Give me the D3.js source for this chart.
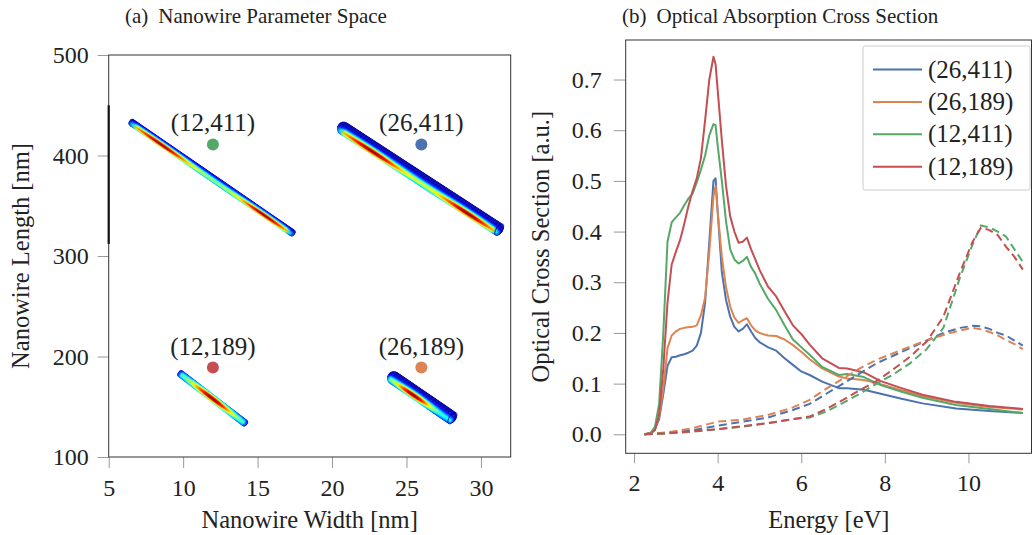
<!DOCTYPE html>
<html><head><meta charset="utf-8">
<script src="https://cdn.jsdelivr.net/npm/d3@7"></script>
<style>
body{margin:0;background:#fff;}
svg{display:block;font-family:"Liberation Serif","Times New Roman",serif;}
</style></head><body>
<svg id="chart" width="1032" height="535"></svg>
<script>
// ---------------- DATA ----------------
const seriesNames  = ["(26,411)", "(26,189)", "(12,411)", "(12,189)"];
const seriesColors = ["#4c72b0", "#dd8452", "#55a868", "#c44e52"];
const pointWidth   = [26, 26, 12, 12];
const pointLength  = [411, 189, 411, 189];

// nanowire picture end points (width nm, length nm)
const wireStart = [[20.4, 430.5], [23.77, 182.4], [6.38, 434.5], [9.67, 184.7]];
const wireEnd   = [[31.45, 324.0], [28.3, 136.5], [17.5, 321.3], [14.3, 132.1]];

const xTicksLeft  = [5, 10, 15, 20, 25, 30];
const yTicksLeft  = [100, 200, 300, 400, 500];
const xTicksRight = [2, 4, 6, 8, 10];
const yTicksRight = [0, 0.1, 0.2, 0.3, 0.4, 0.5, 0.6, 0.7];

const energySolid = [2.25,2.4,2.5,2.6,2.7,2.8,2.9,3.0,3.1,3.2,3.3,3.4,3.5,3.6,3.7,3.8,3.9,3.95,4.0,4.1,4.2,4.3,4.4,4.5,4.6,4.7,4.8,4.9,5.0,5.2,5.4,5.6,5.8,6.0,6.2,6.5,6.9,7.1,7.5,7.9,8.4,8.9,9.7,10.5,11.3];
const solid26_411 = [0,0.002,0.01,0.03,0.08,0.135,0.152,0.153,0.156,0.158,0.161,0.165,0.175,0.2,0.26,0.38,0.5,0.505,0.44,0.32,0.265,0.232,0.212,0.203,0.208,0.217,0.203,0.19,0.182,0.172,0.165,0.15,0.137,0.124,0.117,0.104,0.091,0.091,0.088,0.08,0.07,0.061,0.051,0.046,0.042];
const solid26_189 = [0,0.002,0.01,0.035,0.09,0.17,0.195,0.203,0.208,0.21,0.211,0.212,0.215,0.235,0.27,0.36,0.47,0.49,0.44,0.35,0.29,0.252,0.23,0.22,0.225,0.229,0.215,0.205,0.2,0.195,0.194,0.187,0.176,0.163,0.148,0.13,0.114,0.11,0.107,0.099,0.087,0.075,0.062,0.054,0.049];
const solid12_411 = [0,0.003,0.015,0.06,0.2,0.38,0.418,0.428,0.437,0.452,0.465,0.475,0.497,0.522,0.55,0.59,0.612,0.61,0.57,0.5,0.42,0.365,0.345,0.337,0.342,0.35,0.33,0.317,0.298,0.268,0.245,0.215,0.187,0.172,0.157,0.133,0.117,0.119,0.113,0.097,0.084,0.072,0.058,0.05,0.042];
const solid12_189 = [0,0.002,0.008,0.04,0.13,0.26,0.335,0.36,0.383,0.415,0.45,0.48,0.505,0.545,0.62,0.7,0.745,0.73,0.68,0.58,0.49,0.43,0.4,0.378,0.38,0.388,0.365,0.345,0.325,0.292,0.272,0.243,0.215,0.198,0.177,0.15,0.131,0.13,0.122,0.105,0.091,0.078,0.064,0.056,0.05];

const energyDashed = [2.25,2.8,3.4,4.0,4.6,5.2,5.8,6.2,6.6,7.0,7.4,7.8,8.2,8.6,9.0,9.4,9.8,10.1,10.3,10.5,10.7,10.9,11.1,11.3];
const dashed26_411 = [0,0.003,0.008,0.017,0.025,0.033,0.048,0.06,0.08,0.1,0.12,0.14,0.155,0.17,0.185,0.2,0.21,0.214,0.213,0.208,0.2,0.195,0.185,0.175];
const dashed26_189 = [0,0.004,0.012,0.025,0.029,0.038,0.053,0.068,0.09,0.11,0.13,0.147,0.16,0.173,0.185,0.196,0.205,0.21,0.207,0.202,0.195,0.186,0.178,0.168];
const dashed12_411 = [0,0.002,0.005,0.01,0.015,0.022,0.03,0.033,0.045,0.062,0.08,0.1,0.118,0.14,0.168,0.21,0.31,0.375,0.412,0.408,0.4,0.39,0.365,0.34];
const dashed12_189 = [0,0.002,0.006,0.01,0.016,0.022,0.03,0.035,0.05,0.068,0.087,0.105,0.128,0.153,0.183,0.232,0.32,0.38,0.408,0.403,0.393,0.37,0.35,0.325];

const solidSeries  = [solid26_411, solid26_189, solid12_411, solid12_189];
const dashedSeries = [dashed26_411, dashed26_189, dashed12_411, dashed12_189];

// ---------------- LAYOUT ----------------
const svg = d3.select("#chart");
const textColor = "#222";
const tickColor = "#999";
const FS = 24;

const xL = d3.scaleLinear().domain([5, 32]).range([108.7, 510.7]);
const yL = d3.scaleLinear().domain([100, 500]).range([457, 55]);
const xR = d3.scaleLinear().domain([1.8, 11.52]).range([625.7, 1032]);
const yR = d3.scaleLinear().domain([-0.0375, 0.778]).range([453.3, 40]);

function styleAxis(g) {
  g.select(".domain").remove();
  g.selectAll(".tick line").attr("stroke", tickColor).attr("stroke-width", 1);
  g.selectAll(".tick text").attr("fill", textColor).style("font-size", FS + "px")
    .style("font-family", '"Liberation Serif", serif');
}

// ---------- Left panel ----------
const left = svg.append("g");
left.append("g").attr("transform", `translate(0,${yL(100)})`)
  .call(d3.axisBottom(xL).tickValues(xTicksLeft).tickSize(11).tickPadding(11).tickSizeOuter(0))
  .call(styleAxis);
left.append("g").attr("transform", `translate(${xL(5)},0)`)
  .call(d3.axisLeft(yL).tickValues(yTicksLeft).tickSize(11).tickPadding(9).tickSizeOuter(0))
  .call(styleAxis);
left.append("rect")
  .attr("x", xL(5)).attr("y", yL(500))
  .attr("width", xL(32) - xL(5)).attr("height", yL(100) - yL(500))
  .attr("fill", "none").attr("stroke", "#333").attr("stroke-width", 1);
// dark image border fragment
left.append("line").attr("x1", xL(5)).attr("x2", xL(5)).attr("y1", yL(450)).attr("y2", yL(312))
  .attr("stroke", "#111").attr("stroke-width", 2.2);

// jet colormap
function jet(t) {
  t = Math.max(0, Math.min(1, t));
  const c = v => Math.round(255 * Math.max(0, Math.min(1, v)));
  return `rgb(${c(1.5 - Math.abs(4 * t - 3))},${c(1.5 - Math.abs(4 * t - 2))},${c(1.5 - Math.abs(4 * t - 1))})`;
}
const wireStyle = [
  {w: 14, vc: 0.76, sv: 0.26, peaks: [[0.22, 0.16], [0.8, 0.15]], floor: 0.55, cap: true},
  {w: 14, vc: 0.72, sv: 0.26, peaks: [[0.4, 0.26]], floor: 0.35, cap: true},
  {w: 8, vc: 0.68, sv: 0.36, peaks: [[0.2, 0.16], [0.82, 0.14]], floor: 0.5, cap: false},
  {w: 8, vc: 0.55, sv: 0.45, peaks: [[0.5, 0.3]], floor: 0.35, cap: false}
];
const defs = svg.append("defs");
wireStart.forEach((s, i) => {
  const st = wireStyle[i];
  const x1 = xL(s[0]), y1 = yL(s[1]), x2 = xL(wireEnd[i][0]), y2 = yL(wireEnd[i][1]);
  const L = Math.hypot(x2 - x1, y2 - y1);
  const ang = Math.atan2(y2 - y1, x2 - x1) * 180 / Math.PI;
  const w = st.w;
  const val = (u, v) => {
    let pk = 0;
    st.peaks.forEach(p => { pk = Math.max(pk, Math.exp(-Math.pow((u - p[0]) / p[1], 2))); });
    let A = st.floor + (1 - st.floor) * pk;
    const endF = Math.min(1, u / 0.05, (1 - u) / 0.05);
    A *= Math.max(0, endF);
    return 0.04 + 0.96 * Math.exp(-Math.pow((v - st.vc) / st.sv, 2)) * A;
  };
  defs.append("clipPath").attr("id", "wclip" + i)
    .append("rect").attr("x", 0).attr("y", -w / 2).attr("width", L).attr("height", w).attr("rx", w / 2);
  const g = left.append("g").attr("transform", `translate(${x1},${y1}) rotate(${ang})`);
  const inner = g.append("g").attr("clip-path", `url(#wclip${i})`);
  const nV = Math.round(w * 1.5);
  const h = w / nV;
  for (let j = 0; j < nV; j++) {
    const v = (j + 0.5) / nV;
    const gid = `wg${i}_${j}`;
    const grad = defs.append("linearGradient").attr("id", gid);
    for (let k = 0; k <= 40; k++) {
      const u = k / 40;
      grad.append("stop").attr("offset", u).attr("stop-color", jet(val(u, v)));
    }
    inner.append("rect").attr("x", 0).attr("y", -w / 2 + j * h).attr("width", L).attr("height", h + 0.4)
      .attr("fill", `url(#${gid})`);
  }
  if (st.cap) {
    g.append("ellipse").attr("cx", L - w * 0.28).attr("cy", 0).attr("rx", w * 0.22).attr("ry", w / 2 - 0.3)
      .attr("fill", "none").attr("stroke", "#0000a0").attr("stroke-width", 0.8);
  }
});

// points & labels
seriesNames.forEach((n, i) => {
  left.append("circle").attr("cx", xL(pointWidth[i])).attr("cy", yL(pointLength[i])).attr("r", 6)
    .attr("fill", seriesColors[i]);
  left.append("text").attr("x", xL(pointWidth[i])).attr("y", yL(pointLength[i]) - 13)
    .attr("text-anchor", "middle").attr("fill", textColor).style("font-size", "25px").text(n);
});

// labels
left.append("text").attr("x", (xL(5) + xL(32)) / 2).attr("y", 528).attr("text-anchor", "middle")
  .attr("fill", textColor).style("font-size", "24.5px").text("Nanowire Width [nm]");
left.append("text").attr("transform", `translate(29,${(yL(100) + yL(500)) / 2}) rotate(-90)`)
  .attr("text-anchor", "middle").attr("fill", textColor).style("font-size", "24.5px").text("Nanowire Length [nm]");
const tA = left.append("text").attr("x", 125).attr("y", 23).attr("fill", textColor).style("font-size", "21px");
tA.append("tspan").text("(a)");
tA.append("tspan").attr("dx", 10).text("Nanowire Parameter Space");

// ---------- Right panel ----------
const right = svg.append("g");
right.append("g").attr("transform", `translate(0,${yR.range()[0]})`)
  .call(d3.axisBottom(xR).tickValues(xTicksRight).tickSize(10).tickPadding(11).tickSizeOuter(0))
  .call(styleAxis);
right.append("g").attr("transform", `translate(${xR.range()[0]},0)`)
  .call(d3.axisLeft(yR).tickValues(yTicksRight).tickFormat(d3.format(".1f")).tickSize(12).tickPadding(12).tickSizeOuter(0))
  .call(styleAxis);
right.append("rect")
  .attr("x", xR.range()[0]).attr("y", yR.range()[1])
  .attr("width", xR.range()[1] - xR.range()[0] - 0.5).attr("height", yR.range()[0] - yR.range()[1])
  .attr("fill", "none").attr("stroke", "#333").attr("stroke-width", 1);

const line = d3.line().x(d => xR(d[0])).y(d => yR(d[1]));
solidSeries.forEach((s, i) => {
  right.append("path").datum(energySolid.map((e, k) => [e, s[k]]))
    .attr("d", line).attr("fill", "none").attr("stroke", seriesColors[i])
    .attr("stroke-width", 2).attr("stroke-linejoin", "round");
});
dashedSeries.forEach((s, i) => {
  right.append("path").datum(energyDashed.map((e, k) => [e, s[k]]))
    .attr("d", line).attr("fill", "none").attr("stroke", seriesColors[i])
    .attr("stroke-width", 2).attr("stroke-dasharray", "8,4.5");
});

// legend
const lg = right.append("g");
lg.append("rect").attr("x", 863).attr("y", 46).attr("width", 167).attr("height", 144).attr("rx", 2)
  .attr("fill", "#fff").attr("stroke", "#ccc");
seriesNames.forEach((n, i) => {
  const yy = 69.5 + i * 32.4;
  lg.append("line").attr("x1", 873).attr("x2", 922).attr("y1", yy).attr("y2", yy)
    .attr("stroke", seriesColors[i]).attr("stroke-width", 2);
  lg.append("text").attr("x", 928).attr("y", yy + 8).attr("fill", textColor).style("font-size", "25px").text(n);
});

right.append("text").attr("x", (xR.range()[0] + xR.range()[1]) / 2).attr("y", 528).attr("text-anchor", "middle")
  .attr("fill", textColor).style("font-size", "24.5px").text("Energy [eV]");
right.append("text").attr("transform", `translate(549,${(yR.range()[0] + yR.range()[1]) / 2}) rotate(-90)`)
  .attr("text-anchor", "middle").attr("fill", textColor).style("font-size", "24.5px").text("Optical Cross Section [a.u.]");
const tB = right.append("text").attr("x", 622).attr("y", 23).attr("fill", textColor).style("font-size", "21px");
tB.append("tspan").text("(b)");
tB.append("tspan").attr("dx", 10).text("Optical Absorption Cross Section");
</script>
</body></html>
